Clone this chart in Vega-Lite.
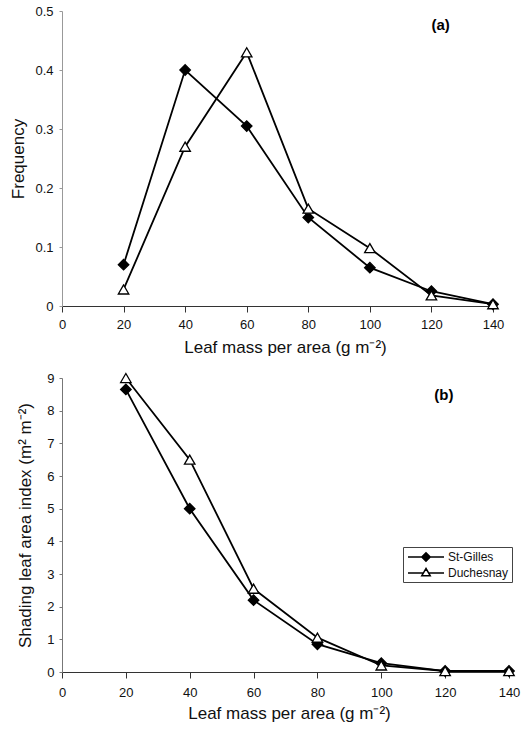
{
  "$schema": "https://vega.github.io/schema/vega-lite/v6.json",
  "background": "white",
  "padding": {"left": 9, "top": 5, "right": 4, "bottom": 5},
  "bounds": "flush",
  "spacing": 72,
  "resolve": {
    "scale": {"shape": "independent", "fill": "independent"},
    "legend": {"shape": "independent", "fill": "independent"}
  },
  "config": {
    "view": {"stroke": null},
    "font": "Liberation Sans",
    "axis": {
      "grid": false,
      "labelFont": "Liberation Sans",
      "titleFont": "Liberation Sans",
      "labelFontSize": 13,
      "titleFontSize": 17,
      "titleFontWeight": "normal",
      "labelColor": "#111",
      "titleColor": "#111",
      "domainColor": "#333",
      "tickColor": "#333",
      "labelOverlap": false,
      "labelFlush": false
    }
  },
  "datasets": {
    "freq": [
      {"lma": 20, "site": "St-Gilles", "v": 0.07},
      {"lma": 40, "site": "St-Gilles", "v": 0.4},
      {"lma": 60, "site": "St-Gilles", "v": 0.305},
      {"lma": 80, "site": "St-Gilles", "v": 0.15},
      {"lma": 100, "site": "St-Gilles", "v": 0.065},
      {"lma": 120, "site": "St-Gilles", "v": 0.025},
      {"lma": 140, "site": "St-Gilles", "v": 0.003},
      {"lma": 20, "site": "Duchesnay", "v": 0.028},
      {"lma": 40, "site": "Duchesnay", "v": 0.27},
      {"lma": 60, "site": "Duchesnay", "v": 0.43},
      {"lma": 80, "site": "Duchesnay", "v": 0.165},
      {"lma": 100, "site": "Duchesnay", "v": 0.098},
      {"lma": 120, "site": "Duchesnay", "v": 0.018},
      {"lma": 140, "site": "Duchesnay", "v": 0.003}
    ],
    "slai": [
      {"lma": 20, "site": "St-Gilles", "v": 8.65},
      {"lma": 40, "site": "St-Gilles", "v": 5.0},
      {"lma": 60, "site": "St-Gilles", "v": 2.2},
      {"lma": 80, "site": "St-Gilles", "v": 0.85},
      {"lma": 100, "site": "St-Gilles", "v": 0.27},
      {"lma": 120, "site": "St-Gilles", "v": 0.03},
      {"lma": 140, "site": "St-Gilles", "v": 0.03},
      {"lma": 20, "site": "Duchesnay", "v": 9.0},
      {"lma": 40, "site": "Duchesnay", "v": 6.5},
      {"lma": 60, "site": "Duchesnay", "v": 2.55},
      {"lma": 80, "site": "Duchesnay", "v": 1.05},
      {"lma": 100, "site": "Duchesnay", "v": 0.2},
      {"lma": 120, "site": "Duchesnay", "v": 0.03},
      {"lma": 140, "site": "Duchesnay", "v": 0.03}
    ]
  },
  "vconcat": [
    {
      "width": 431,
      "height": 295,
      "encoding": {
        "x": {"field": "lma", "type": "quantitative", "scale": {"domain": [0, 140], "nice": false},
          "axis": {"values": [0, 20, 40, 60, 80, 100, 120, 140], "tickSize": 6, "labelPadding": 6, "titlePadding": 8, "titleX": 223, "title": "Leaf mass per area (g m⁻²)"}},
        "y": {"field": "v", "type": "quantitative", "scale": {"domain": [0, 0.5], "nice": false},
          "axis": {"values": [0, 0.1, 0.2, 0.3, 0.4, 0.5], "format": "~g", "tickSize": 3, "labelPadding": 6, "titlePadding": 7, "title": "Frequency", "domainColor": "#999", "tickColor": "#999"}}
      },
      "layer": [
        {
          "data": {"name": "freq"},
          "mark": {"type": "line", "color": "black", "strokeWidth": 1.8},
          "encoding": {"detail": {"field": "site"}}
        },
        {
          "data": {"name": "freq"},
          "mark": {"type": "point", "filled": true, "opacity": 1, "stroke": "black", "strokeWidth": 1.3, "size": 110},
          "encoding": {
            "shape": {"field": "site", "type": "nominal", "scale": {"domain": ["St-Gilles", "Duchesnay"], "range": ["diamond", "triangle-up"]}, "legend": null},
            "fill": {"field": "site", "type": "nominal", "scale": {"domain": ["St-Gilles", "Duchesnay"], "range": ["black", "white"]}, "legend": null}
          }
        },
        {
          "data": {"values": [{"lma": 123, "v": 0.476, "t": "(a)"}]},
          "mark": {"type": "text", "fontWeight": "bold", "fontSize": 15, "font": "Liberation Sans", "color": "black"},
          "encoding": {"text": {"field": "t"}}
        }
      ]
    },
    {
      "width": 447,
      "height": 294,
      "resolve": {
        "scale": {"shape": "independent", "fill": "independent"},
        "legend": {"shape": "independent", "fill": "independent"}
      },
      "encoding": {
        "x": {"field": "lma", "type": "quantitative", "scale": {"domain": [0, 140], "nice": false},
          "axis": {"values": [0, 20, 40, 60, 80, 100, 120, 140], "tickSize": 6, "labelPadding": 8, "titlePadding": 6, "titleX": 227, "title": "Leaf mass per area (g m⁻²)"}},
        "y": {"field": "v", "type": "quantitative", "scale": {"domain": [0, 9], "nice": false},
          "axis": {"values": [0, 1, 2, 3, 4, 5, 6, 7, 8, 9], "tickSize": 3, "labelPadding": 5, "titlePadding": 12, "title": "Shading leaf area index (m² m⁻²)", "domainColor": "#777", "tickColor": "#777"}}
      },
      "layer": [
        {
          "data": {"name": "slai"},
          "mark": {"type": "line", "color": "black", "strokeWidth": 1.8},
          "encoding": {"detail": {"field": "site"}}
        },
        {
          "data": {"name": "slai"},
          "mark": {"type": "point", "filled": true, "opacity": 1, "stroke": "black", "strokeWidth": 1.3, "size": 110},
          "encoding": {
            "shape": {"field": "site", "type": "nominal", "scale": {"domain": ["St-Gilles", "Duchesnay"], "range": ["diamond", "triangle-up"]}, "legend": null},
            "fill": {"field": "site", "type": "nominal", "scale": {"domain": ["St-Gilles", "Duchesnay"], "range": ["black", "white"]}, "legend": null}
          }
        },
        {
          "data": {"name": "slai"},
          "mark": {"type": "point", "filled": true, "opacity": 0, "stroke": "black", "strokeWidth": 1.5, "size": 144},
          "encoding": {
            "shape": {"field": "site", "type": "nominal",
              "scale": {"domain": ["St-Gilles", "Duchesnay"], "range": ["M-3,0L3,0M0,-0.7L0.7,0L0,0.7L-0.7,0Z", "M-3,0L-0.44,0M0.44,0L3,0M0,-0.75L0.7,0.45L-0.7,0.45Z"]},
              "legend": {
                "orient": "none", "legendX": 341, "legendY": 169, "title": null,
                "strokeColor": "#444", "padding": 3, "symbolSize": 144, "symbolOpacity": 1, "symbolStrokeWidth": 1.5,
                "symbolOffset": 13, "labelOffset": 15,
                "labelFont": "Liberation Sans", "labelFontSize": 12, "labelColor": "#111", "rowPadding": 0
              }},
            "fill": {"field": "site", "type": "nominal", "scale": {"domain": ["St-Gilles", "Duchesnay"], "range": ["black", "white"]}, "legend": null}
          }
        },
        {
          "data": {"values": [{"lma": 119.6, "v": 8.48, "t": "(b)"}]},
          "mark": {"type": "text", "fontWeight": "bold", "fontSize": 15, "font": "Liberation Sans", "color": "black"},
          "encoding": {"text": {"field": "t"}}
        }
      ]
    }
  ]
}
